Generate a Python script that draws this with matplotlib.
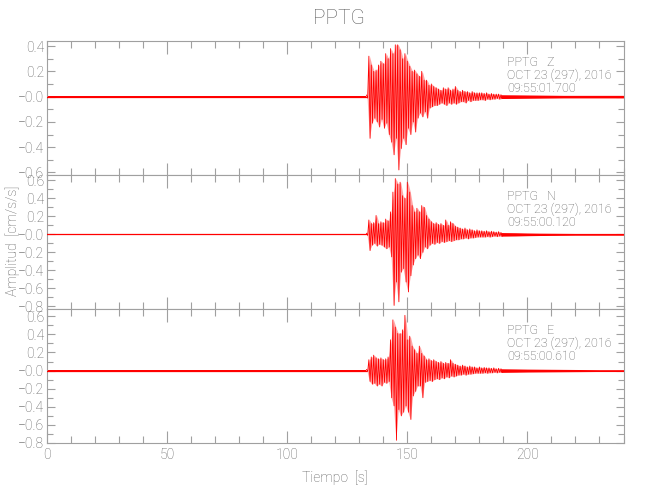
import numpy as np
import matplotlib
matplotlib.use("Agg")
import matplotlib.pyplot as plt
from matplotlib.ticker import FixedLocator, MultipleLocator

plt.rcParams['font.family'] = ['Roboto', 'DejaVu Sans']
plt.rcParams['font.weight'] = 'light'
plt.rcParams['axes.labelweight'] = 'light'

# ---------------- data ----------------
station = "PPTG"
components = ["Z", "N", "E"]
date_text = "OCT 23 (297), 2016"
start_times = ["09:55:01.700", "09:55:00.120", "09:55:00.610"]

# pre-event noise level per component (cm/s/s)
noise = [0.008, 0.008, 0.008]
onset = 133

# 1-second bins (start at 133 s) : positive and negative peaks
burst_t0 = 133
up_Z = [0.012, 0.32, 0.25, 0.20, 0.21, 0.25, 0.28, 0.26, 0.34, 0.30,
        0.38, 0.34, 0.41, 0.41, 0.37, 0.30, 0.34, 0.28, 0.24, 0.20,
        0.21, 0.18, 0.16, 0.20, 0.13, 0.13, 0.09, 0.10, 0.08, 0.07,
        0.06, 0.05, 0.07, 0.06, 0.07, 0.05, 0.06, 0.08, 0.05, 0.04,
        0.05, 0.04, 0.04, 0.03, 0.04, 0.03, 0.03, 0.03, 0.03, 0.025,
        0.03, 0.02, 0.025, 0.02, 0.02, 0.02, 0.015]
dn_Z = [-0.012, -0.33, -0.21, -0.17, -0.20, -0.24, -0.18, -0.25, -0.21, -0.30,
        -0.36, -0.46, -0.33, -0.58, -0.41, -0.33, -0.38, -0.25, -0.30, -0.20,
        -0.28, -0.17, -0.13, -0.16, -0.12, -0.17, -0.09, -0.08, -0.07, -0.07,
        -0.06, -0.05, -0.06, -0.07, -0.05, -0.06, -0.05, -0.06, -0.05, -0.04,
        -0.04, -0.05, -0.03, -0.04, -0.03, -0.03, -0.03, -0.025, -0.025, -0.03,
        -0.02, -0.025, -0.02, -0.02, -0.015, -0.02, -0.015]
up_N = [0.012, 0.16, 0.12, 0.13, 0.21, 0.12, 0.14, 0.13, 0.17, 0.15,
        0.25, 0.47, 0.62, 0.56, 0.58, 0.43, 0.40, 0.58, 0.47, 0.32,
        0.25, 0.29, 0.25, 0.32, 0.30, 0.21, 0.17, 0.14, 0.12, 0.13,
        0.11, 0.12, 0.10, 0.16, 0.10, 0.14, 0.12, 0.09, 0.08, 0.07,
        0.06, 0.07, 0.05, 0.06, 0.05, 0.04, 0.05, 0.04, 0.04, 0.035,
        0.04, 0.03, 0.035, 0.03, 0.025, 0.03, 0.02]
dn_N = [-0.012, -0.18, -0.12, -0.10, -0.13, -0.11, -0.12, -0.14, -0.16, -0.14,
        -0.25, -0.79, -0.53, -0.75, -0.42, -0.38, -0.53, -0.64, -0.46, -0.34,
        -0.27, -0.23, -0.27, -0.20, -0.14, -0.16, -0.12, -0.10, -0.11, -0.09,
        -0.10, -0.08, -0.09, -0.08, -0.07, -0.08, -0.07, -0.06, -0.06, -0.05,
        -0.05, -0.04, -0.05, -0.04, -0.04, -0.035, -0.03, -0.03, -0.03, -0.03,
        -0.025, -0.03, -0.025, -0.02, -0.025, -0.02, -0.02]
up_E = [0.012, 0.12, 0.15, 0.17, 0.14, 0.13, 0.14, 0.12, 0.13, 0.15,
        0.34, 0.56, 0.48, 0.41, 0.41, 0.45, 0.61, 0.34, 0.38, 0.27,
        0.23, 0.19, 0.27, 0.19, 0.16, 0.12, 0.13, 0.11, 0.12, 0.10,
        0.09, 0.10, 0.08, 0.09, 0.08, 0.12, 0.08, 0.07, 0.06, 0.05,
        0.06, 0.05, 0.04, 0.05, 0.04, 0.04, 0.03, 0.04, 0.03, 0.035,
        0.03, 0.03, 0.025, 0.03, 0.02, 0.025, 0.02]
dn_E = [-0.012, -0.12, -0.15, -0.14, -0.17, -0.15, -0.17, -0.13, -0.14, -0.12,
        -0.30, -0.39, -0.77, -0.43, -0.50, -0.46, -0.39, -0.46, -0.54, -0.28,
        -0.23, -0.17, -0.17, -0.30, -0.13, -0.12, -0.11, -0.12, -0.10, -0.09,
        -0.10, -0.08, -0.09, -0.07, -0.08, -0.06, -0.07, -0.06, -0.05, -0.05,
        -0.04, -0.05, -0.04, -0.04, -0.035, -0.03, -0.03, -0.03, -0.03, -0.025,
        -0.03, -0.025, -0.025, -0.02, -0.025, -0.02, -0.02]

# coda amplitude (symmetric band), from 189 s to 240 s
coda_t = [189, 195, 200, 205, 210, 215, 220, 225, 230, 235, 240]
coda_Z = [0.015, 0.014, 0.013, 0.012, 0.011, 0.010, 0.010, 0.010, 0.010, 0.010, 0.010]
coda_N = [0.020, 0.018, 0.015, 0.013, 0.012, 0.011, 0.010, 0.010, 0.010, 0.010, 0.010]
coda_E = [0.020, 0.018, 0.016, 0.015, 0.014, 0.013, 0.012, 0.011, 0.010, 0.010, 0.010]

ups = [up_Z, up_N, up_E]
dns = [dn_Z, dn_N, dn_E]
codas = [coda_Z, coda_N, coda_E]

ylims = [(-0.62, 0.44), (-0.83, 0.66), (-0.80, 0.68)]
yticks = [[0.4, 0.2, 0.0, -0.2, -0.4, -0.6],
          [0.6, 0.4, 0.2, 0.0, -0.2, -0.4, -0.6, -0.8],
          [0.6, 0.4, 0.2, 0.0, -0.2, -0.4, -0.6, -0.8]]
ytick_labels = [["0.4", "0.2", "\u22120.0", "\u22120.2", "\u22120.4", "\u22120.6"],
                ["0.6", "0.4", "0.2", "\u22120.0", "\u22120.2", "\u22120.4", "\u22120.6", "\u22120.8"],
                ["0.6", "0.4", "0.2", "\u22120.0", "\u22120.2", "\u22120.4", "\u22120.6", "\u22120.8"]]
xlim = (0, 240)

# ---------------- figure ----------------
W, H = 650, 500
fig = plt.figure(figsize=(W / 100, H / 100), dpi=100)
fig.patch.set_facecolor("white")

txt_c = "#5e5e5e"
ax_c = "#a0a0a0"
red = "#ff0000"
pink = "#ffa8a8"

left_px, right_px = 47, 623.5
tops_px = [41, 175, 309]
h_px = 134

axes = []
for i in range(3):
    ax = fig.add_axes([left_px / W, 1 - (tops_px[i] + h_px) / H,
                       (right_px - left_px) / W, h_px / H])
    axes.append(ax)

    # pre-event noise band
    ax.fill_between([0, onset], [-noise[i], -noise[i]], [noise[i], noise[i]],
                    color=red, lw=0, zorder=2)
    ax.plot([0, onset], [0, 0], color=red, lw=0.9, zorder=3)

    # burst: envelope fill + zig-zag of peak values per 1-s bin
    n = len(ups[i])
    tb = burst_t0 + np.arange(n)
    ax.fill_between(tb + 0.25, dns[i], ups[i], color=pink, lw=0, zorder=2)
    xs = np.empty(2 * n)
    ys = np.empty(2 * n)
    xs[0::2] = tb
    xs[1::2] = tb + 0.5
    ys[0::2] = ups[i]
    ys[1::2] = dns[i]
    ax.plot(xs, ys, color=red, lw=0.6, zorder=3)

    # coda band
    c = np.array(codas[i])
    ax.fill_between(coda_t, -c, c, color=red, lw=0, zorder=2)
    ax.plot([coda_t[0], coda_t[-1]], [0, 0], color=red, lw=0.8, zorder=3)

    ax.set_xlim(*xlim)
    ax.set_ylim(*ylims[i])
    ax.yaxis.set_major_locator(FixedLocator(yticks[i]))
    ax.set_yticklabels(ytick_labels[i])
    ax.yaxis.set_minor_locator(MultipleLocator(0.1))
    ax.xaxis.set_major_locator(MultipleLocator(50))
    ax.xaxis.set_minor_locator(MultipleLocator(10))
    ax.tick_params(which="both", direction="in", top=True, right=True,
                   color=ax_c, labelcolor=txt_c, labelsize=10, width=0.8)
    ax.tick_params(which="major", axis="x", length=9)
    ax.tick_params(which="minor", axis="x", length=5)
    ax.tick_params(which="major", axis="y", length=6)
    ax.tick_params(which="minor", axis="y", length=4)
    ax.tick_params(axis="y", pad=2)
    if i < 2:
        ax.tick_params(axis="x", labelbottom=False)
    for s in ax.spines.values():
        s.set_color(ax_c)
        s.set_linewidth(0.8)

    for k, s in enumerate([f"{station}   {components[i]}", date_text, start_times[i]]):
        ax.text(191.5, 1 - (21 + 13 * k) / h_px, s,
                transform=ax.get_xaxis_transform(), color=txt_c, fontsize=9,
                va="center", ha="left")

axes[2].set_xlabel("Tiempo  [s]", color=txt_c, fontsize=10, labelpad=6,
                   fontweight="light")
fig.text(13 / W, 1 - 241 / H, "Amplitud  [cm/s/s]", rotation=90, color=txt_c,
         fontsize=10, ha="center", va="center")
fig.text(339 / W, 1 - 18 / H, station, color=txt_c, fontsize=15,
         ha="center", va="center")

fig.savefig("out.png", dpi=100)
